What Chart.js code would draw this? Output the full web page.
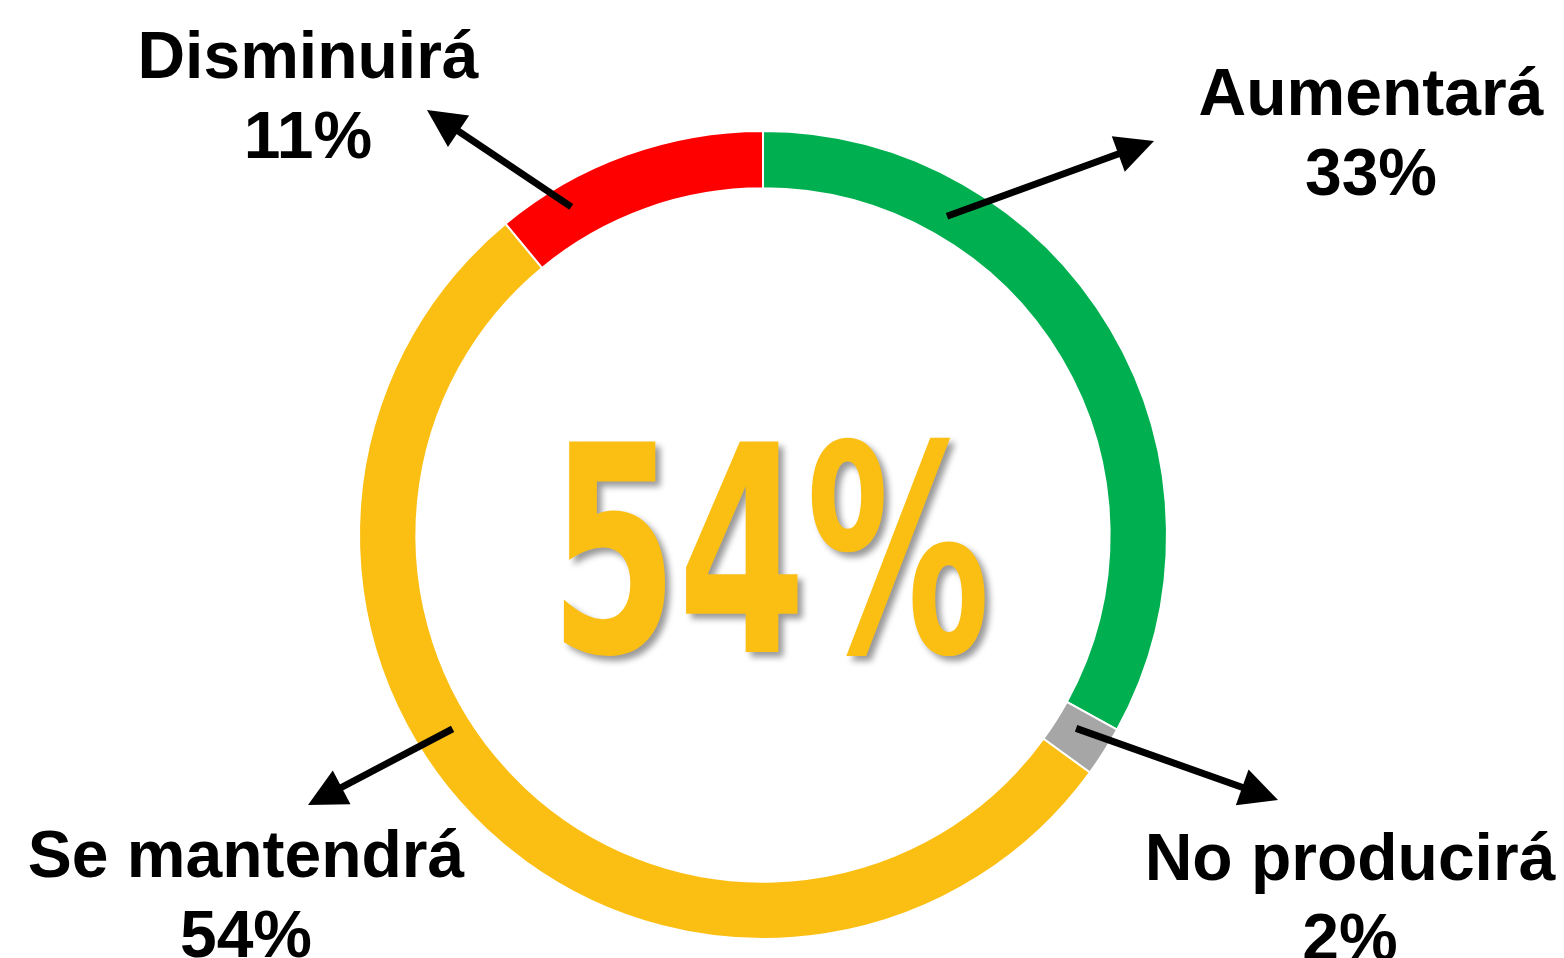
<!DOCTYPE html>
<html>
<head>
<meta charset="utf-8">
<script src="https://cdn.jsdelivr.net/npm/chart.js@4.4.1/dist/chart.umd.min.js"></script>
<style>
  html, body { margin: 0; padding: 0; background: #ffffff; }
  #wrap { width: 1564px; height: 958px; }
</style>
</head>
<body>
<div id="wrap"><canvas id="c" width="1564" height="958"></canvas></div>
<script>
// ---- data ----
const categories = ["Aumentará", "No producirá", "Se mantendrá", "Disminuirá"];
const values = [33, 2, 54, 11];
const valueLabels = ["33%", "2%", "54%", "11%"];
const colors = ["#00B050", "#A6A6A6", "#FBBF13", "#FF0000"];
const centerText = "54%";

// ---- annotation layout (text position, arrow tail angle on ring, arrow tip) ----
const callouts = [
  { text: [1371, 115], tailAngle: 30, tailR: 368, tip: [1154, 141] },
  { text: [1350, 880], tailAngle: 121.7, tailR: 368, tip: [1278, 800] },
  { text: [246, 877], tailAngle: 238, tailR: 366, tip: [308, 805] },
  { text: [308, 78], tailAngle: 329.7, tailR: 380, tip: [427, 110] }
];

const annotPlugin = {
  id: 'annot',
  afterDraw(chart) {
    const ctx = chart.ctx;
    const meta = chart.getDatasetMeta(0);
    const arc0 = meta.data[0];
    const cx = arc0.x, cy = arc0.y;

    // center big text
    ctx.save();
    ctx.font = 'bold 200px "DejaVu Sans Condensed", "DejaVu Sans"';
    ctx.textBaseline = 'alphabetic';
    ctx.textAlign = 'left';
    const m = ctx.measureText(centerText);
    const w = m.actualBoundingBoxLeft + m.actualBoundingBoxRight;
    const h = m.actualBoundingBoxAscent;
    const boxL = 563, boxR = 985, boxT = 437, boxB = 652;
    const sx = (boxR - boxL) / w, sy = (boxB - boxT) / h;
    ctx.shadowColor = 'rgba(0,0,0,0.4)';
    ctx.shadowOffsetX = 5;
    ctx.shadowOffsetY = 5;
    ctx.shadowBlur = 6;
    ctx.translate(boxL, boxB);
    ctx.scale(sx, sy);
    ctx.fillStyle = colors[2];
    ctx.fillText(centerText, m.actualBoundingBoxLeft, 0);
    ctx.restore();

    // callouts
    ctx.save();
    ctx.fillStyle = '#000';
    ctx.strokeStyle = '#000';
    ctx.textAlign = 'center';
    ctx.textBaseline = 'alphabetic';
    ctx.font = 'bold 66px "Liberation Sans", Arial, sans-serif';
    categories.forEach((cat, i) => {
      const c = callouts[i];
      ctx.fillText(cat, c.text[0], c.text[1]);
      ctx.fillText(valueLabels[i], c.text[0], c.text[1] + 80);

      const a = (c.tailAngle - 90) * Math.PI / 180;
      const tx = cx + c.tailR * Math.cos(a), ty = cy + c.tailR * Math.sin(a);
      const [px, py] = c.tip;
      const dx = px - tx, dy = py - ty;
      const len = Math.hypot(dx, dy);
      const ux = dx / len, uy = dy / len;
      const headL = 38, headW = 19;
      const bx = px - ux * headL, by = py - uy * headL;
      ctx.lineWidth = 7;
      ctx.lineCap = 'butt';
      ctx.beginPath();
      ctx.moveTo(tx, ty);
      ctx.lineTo(bx + ux * 2, by + uy * 2);
      ctx.stroke();
      ctx.beginPath();
      ctx.moveTo(px, py);
      ctx.lineTo(bx - uy * headW, by + ux * headW);
      ctx.lineTo(bx + uy * headW, by - ux * headW);
      ctx.closePath();
      ctx.fill();
    });
    ctx.restore();
  }
};

new Chart(document.getElementById('c'), {
  type: 'doughnut',
  data: {
    labels: categories,
    datasets: [{
      data: values,
      backgroundColor: colors,
      borderColor: '#ffffff',
      borderWidth: 2,
      hoverOffset: 0,
      offset: 0
    }]
  },
  options: {
    responsive: false,
    animation: false,
    cutout: '85.8%',
    rotation: 0,
    layout: { padding: { left: 358, right: 396, top: 130, bottom: 18 } },
    plugins: { legend: { display: false }, tooltip: { enabled: false } },
    events: []
  },
  plugins: [annotPlugin]
});
</script>
</body>
</html>
